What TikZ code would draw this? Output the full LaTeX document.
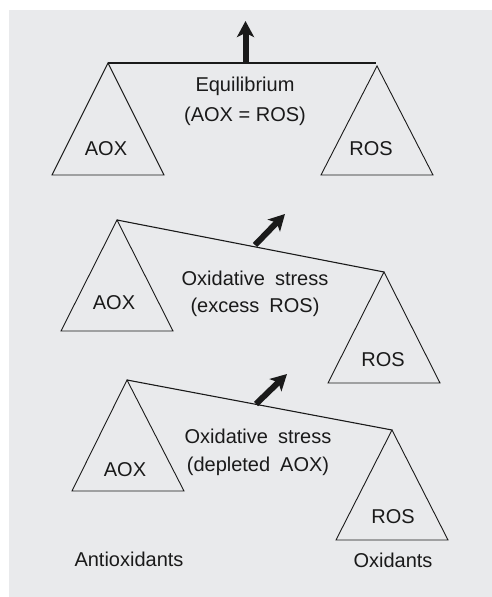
\documentclass[tikz,border=0pt]{standalone}
\usepackage{fontspec}
\setmainfont{Liberation Sans}
\usetikzlibrary{arrows.meta}
\definecolor{panelgray}{HTML}{E9EAEC}
\definecolor{ink}{HTML}{1A1A1A}
% wide gap used between words of the stress labels
\newcommand{\wsp}{\hspace{10pt}}
\begin{document}
\begin{tikzpicture}[x=1pt,y=-1pt,
  lbl/.style={anchor=base, inner sep=0pt, text=ink, font=\fontsize{20}{24}\selectfont},
  beam/.style={draw=ink, line width=1.1pt},
  weight/.style={draw=ink, line width=0.9pt, line join=miter},
  tilt/.style={draw=ink, line width=6pt, -{Stealth[length=16pt,width=17pt,inset=4pt]}},
]
\useasboundingbox (0,0) rectangle (492,597);
\fill[panelgray] (9,9.5) rectangle (492,597);

% ---- balance 1: equilibrium ----
\coordinate (L1) at (108,63);
\coordinate (R1) at (376,63);
\coordinate (b1) at (245.5,63);
\coordinate (t1) at (245.5,21);
\draw[beam] (L1) -- (R1);
\draw[weight] (L1) -- ++(-56,112) -- ++(112,0) -- cycle;
\draw[weight] (377,66) -- ++(-56,109) -- ++(112,0) -- cycle;
\draw[tilt] (b1) -- (t1);
\node[lbl] (eq)  at (245,91)  {Equilibrium};
\node[lbl] (eqs) at (245,121) {(AOX = ROS)};
\node[lbl] (a1)  at (106,155) {AOX};
\node[lbl] (r1)  at (371,155) {ROS};

% ---- balance 2: excess ROS ----
\coordinate (L2) at (117,220);
\coordinate (R2) at (384,272);
\coordinate (b2) at (255,245);
\coordinate (t2) at (285,214);
\draw[beam] (L2) -- (R2);
\draw[weight] (L2) -- ++(-56,111) -- ++(112,0) -- cycle;
\draw[weight] (R2) -- ++(-56,111) -- ++(112,0) -- cycle;
\draw[tilt] (b2) -- (t2);
\node[lbl] (os2) at (255,285)   {Oxidative\wsp stress};
\node[lbl] (ex2) at (255,312)   {(excess\wsp ROS)};
\node[lbl] (a2)  at (114,309.5) {AOX};
\node[lbl] (r2)  at (383,366)   {ROS};

% ---- balance 3: depleted AOX ----
\coordinate (L3) at (127,380);
\coordinate (R3) at (392,430);
\coordinate (b3) at (256,404);
\coordinate (t3) at (287,374);
\draw[beam] (L3) -- (R3);
\draw[weight] (L3) -- ++(-55,111) -- ++(112,0) -- cycle;
\draw[weight] (R3) -- ++(-56,110) -- ++(112,0) -- cycle;
\draw[tilt] (b3) -- (t3);
\node[lbl] (os3) at (258,443) {Oxidative\wsp stress};
\node[lbl] (dp3) at (258,471) {(depleted\wsp AOX)};
\node[lbl] (a3)  at (125,476) {AOX};
\node[lbl] (r3)  at (393,523.5) {ROS};

% ---- side captions ----
\node[lbl] (anti) at (129,566) {Antioxidants};
\node[lbl] (oxi)  at (393,567) {Oxidants};
\end{tikzpicture}
\end{document}
